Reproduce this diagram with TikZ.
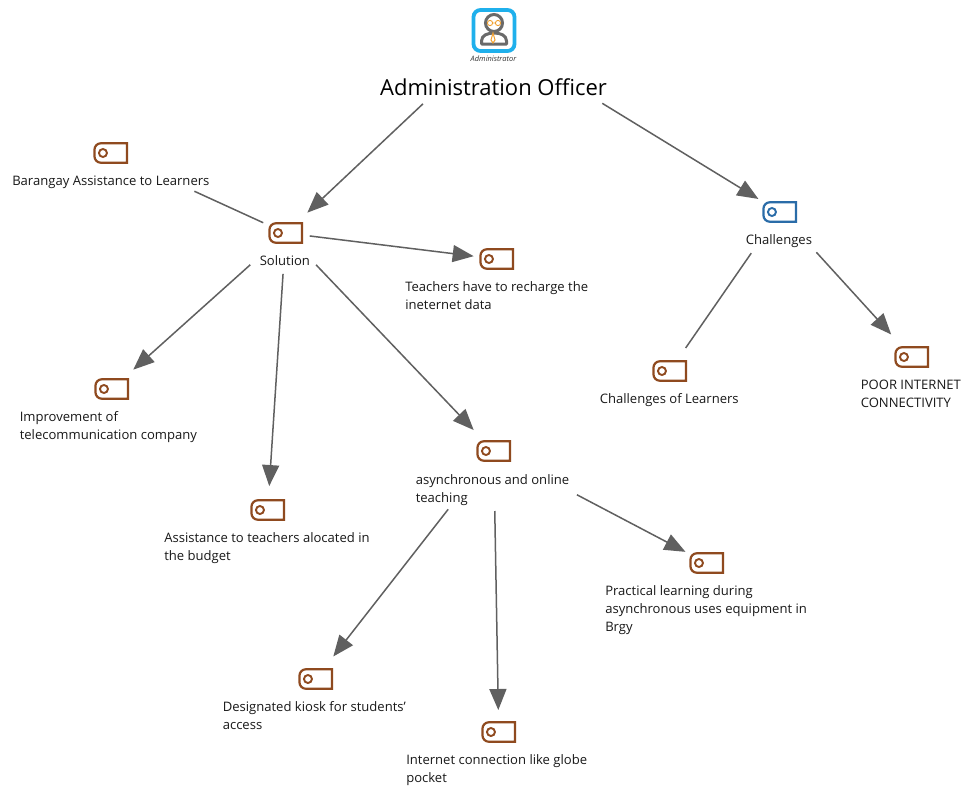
\documentclass[tikz,border=0pt]{standalone}
\usepackage{fontspec}
\setmainfont{Open Sans}
\usetikzlibrary{arrows.meta}
\definecolor{tagbrown}{HTML}{8F4A1F}
\definecolor{tagblue}{HTML}{2A6CA8}
\definecolor{linkgray}{HTML}{606060}
\definecolor{iconcyan}{HTML}{1FB0EC}
\definecolor{icongray}{HTML}{6A6A6A}
\definecolor{iconorange}{HTML}{F0A030}
\tikzset{
  tagshape/.style={rectangle,xshift=0.7*0.75pt,minimum width=32.5*0.75pt,minimum height=19.5*0.75pt,inner sep=0pt,outer sep=0pt,
    append after command={\pgfextra{
      \draw[#1,line width=2.2*0.75pt,line join=miter]
        (\tikzlastnode.north east) -- ([xshift=6.5*0.75pt]\tikzlastnode.north west)
        arc[start angle=90,end angle=180,radius=6.5*0.75pt]
        -- ([yshift=6.5*0.75pt]\tikzlastnode.south west)
        arc[start angle=180,end angle=270,radius=6.5*0.75pt]
        -- (\tikzlastnode.south east) -- cycle;
      \draw[#1,line width=1.9*0.75pt] ([xshift=8.5*0.75pt]\tikzlastnode.west) circle (4*0.75pt);
    }}},
  browntag/.style={tagshape=tagbrown},
  bluetag/.style={tagshape=tagblue},
  lbl/.style={font=\fontsize{9.8pt}{13.5pt}\selectfont,text=black!90,align=left,inner sep=0pt,anchor=north west},
  link/.style 2 args={draw=linkgray,line width=1.5*0.75pt,shorten <=#1*0.75pt,shorten >=#2*0.75pt},
  arrowlink/.style 2 args={link={#1}{#2},-{Triangle[length=21*0.75pt,width=17*0.75pt,fill=linkgray]}}
}
\begin{document}
\begin{tikzpicture}[x=0.75pt,y=-0.75pt]
\useasboundingbox (0,0) rectangle (966,790);
\fill[white] (0,0) rectangle (966,790);
% icon
\node[minimum width=46*0.75pt,minimum height=58*0.75pt,inner sep=0pt] (admin) at (494,37) {};
\draw[iconcyan,line width=3.8*0.75pt,rounded corners=7*0.75pt] (473.5,10) rectangle (514.5,51);
\draw[icongray,line width=3*0.75pt] (494,23) circle (8.5);
\draw[icongray,line width=3*0.75pt,line join=round] (481.5,44) -- (481.5,41) .. controls (481.5,35) and (488,33) .. (494,33) .. controls (500,33) and (506.5,35) .. (506.5,41) -- (506.5,44) -- cycle;
\draw[iconorange,line width=0.9*0.75pt] (490,23) circle (2.6) (498,23) circle (2.6) (492.6,23) -- (495.4,23);
\draw[iconorange,line width=1*0.75pt] (493,33) -- (491,40) -- (493,43) -- (495,40) -- cycle;
\node[font=\fontsize{5.6pt}{6pt}\itshape,text=black!80,inner sep=0pt] (admincap) at (493.5,59) {Administrator};
\node[font=\fontsize{16.5pt}{20pt}\selectfont,text=black,inner sep=0pt] (officer) at (493.5,87) {Administration Officer};
% tags
\node[browntag] (tsolution) at (285,233) {};
\node[browntag] (tbarangay) at (110,153) {};
\node[browntag] (tteachers) at (496,259) {};
\node[browntag] (timprove) at (111,389) {};
\node[browntag] (tassist) at (267,510) {};
\node[browntag] (tasync) at (493,451) {};
\node[browntag] (tpractical) at (706,563) {};
\node[browntag] (tkiosk) at (315,679) {};
\node[browntag] (tinternet) at (498,732) {};
\node[bluetag] (tchallenges) at (779,212) {};
\node[browntag] (tlearners) at (669,371) {};
\node[browntag] (tpoor) at (911,357) {};
% labels
\node[lbl] (lbarangay) at (12,175.5) {Barangay Assistance to Learners};
\node[lbl] (lsolution) at (259.5,255.5) {Solution};
\node[lbl] (lteachers) at (405,281.5) {Teachers have to recharge the\\ineternet data};
\node[lbl] (limprove) at (19.5,411.5) {Improvement of\\telecommunication company};
\node[lbl] (lassist) at (164,532.5) {Assistance to teachers alocated in\\the budget};
\node[lbl] (lasync) at (415.5,474.5) {asynchronous and online\\teaching};
\node[lbl] (lpractical) at (605,585.5) {Practical learning during\\asynchronous uses equipment in\\Brgy};
\node[lbl] (lkiosk) at (222.5,701.5) {Designated kiosk for students'\\access};
\node[lbl] (linternet) at (406,754.5) {Internet connection like globe\\pocket};
\node[lbl] (lchallenges) at (745.5,234.5) {Challenges};
\node[lbl] (llearners) at (599.5,393.5) {Challenges of Learners};
\node[lbl] (lpoor) at (860.5,379.5) {POOR INTERNET\\CONNECTIVITY};
% connectors
\draw[arrowlink={97.6}{29.7}] (admin.center) -- (tsolution.center);
\draw[arrowlink={127}{25}] (admin.center) -- (tchallenges.center);
\draw[link={92}{24.7}] (tbarangay.center) -- (tsolution.center);
\draw[arrowlink={24.2}{23.2}] (tsolution.center) -- (tteachers.center);
\draw[arrowlink={47.6}{29}] (tsolution.center) -- (timprove.center);
\draw[arrowlink={41}{24}] (tsolution.center) -- (tassist.center);
\draw[arrowlink={44}{29}] (tsolution.center) -- (tasync.center);
\draw[arrowlink={94}{24}] (tasync.center) -- (tpractical.center);
\draw[arrowlink={74}{28.6}] (tasync.center) -- (tkiosk.center);
\draw[arrowlink={60}{22}] (tasync.center) -- (tinternet.center);
\draw[link={50}{28}] (tchallenges.center) -- (tlearners.center);
\draw[arrowlink={54.5}{30.5}] (tchallenges.center) -- (tpoor.center);
\end{tikzpicture}
\end{document}
